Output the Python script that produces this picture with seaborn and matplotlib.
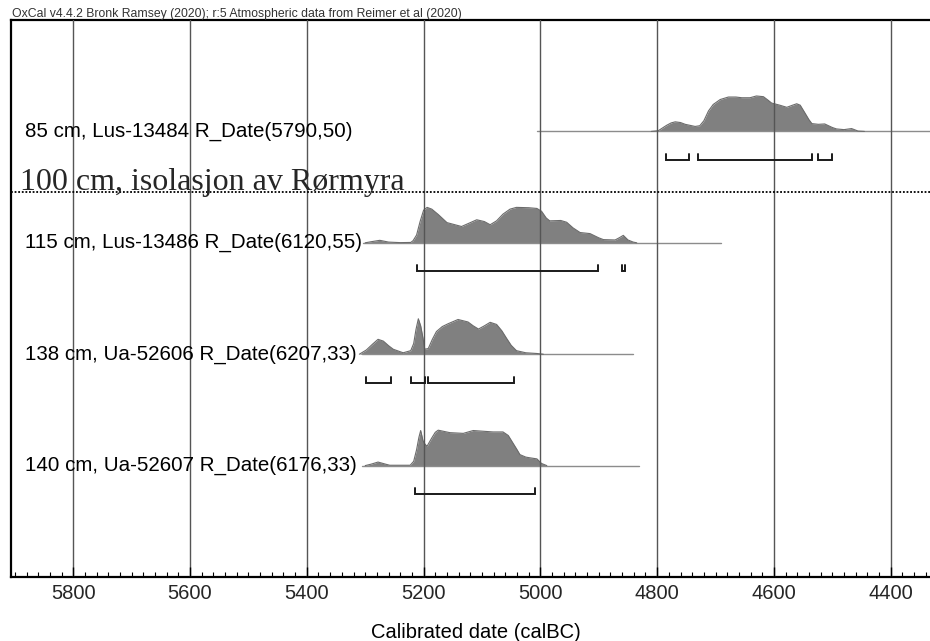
import numpy as np
import pandas as pd
import matplotlib
matplotlib.use("Agg")
import matplotlib.pyplot as plt
from matplotlib.ticker import MultipleLocator
import seaborn as sns

# --- Calibrated dates (calBC), relative probability (peak = 1) ---
labels = [
    "85 cm, Lus-13484 R_Date(5790,50)",
    "115 cm, Lus-13486 R_Date(6120,55)",
    "138 cm, Ua-52606 R_Date(6207,33)",
    "140 cm, Ua-52607 R_Date(6176,33)",
]

years_85 = [4810, 4798, 4784, 4776, 4769, 4760, 4752, 4735, 4727, 4720, 4712, 4704,
            4692, 4678, 4665, 4655, 4641, 4630, 4618, 4610, 4604, 4590, 4578, 4568,
            4561, 4555, 4548, 4540, 4535, 4524, 4513, 4500, 4493, 4480, 4467, 4456,
            4445]
prob_85 = [0.0, 0.02, 0.17, 0.24, 0.27, 0.25, 0.20, 0.14, 0.16, 0.30, 0.58, 0.76,
           0.90, 0.97, 0.97, 0.95, 0.95, 1.0, 0.98, 0.88, 0.80, 0.74, 0.68, 0.74,
           0.78, 0.74, 0.55, 0.33, 0.22, 0.20, 0.21, 0.11, 0.07, 0.05, 0.08, 0.01,
           0.0]

years_115 = [5300, 5290, 5275, 5260, 5240, 5222, 5218, 5212, 5206, 5200, 5194, 5186,
             5175, 5160, 5135, 5109, 5096, 5086, 5075, 5064, 5052, 5041, 5020, 5006,
             4998, 4990, 4984, 4965, 4955, 4944, 4932, 4915, 4900, 4892, 4872, 4864,
             4858, 4850, 4841, 4835]
prob_115 = [0.0, 0.03, 0.07, 0.02, 0.005, 0.01, 0.06, 0.22, 0.60, 0.92, 1.0, 0.95,
            0.80, 0.57, 0.46, 0.65, 0.60, 0.51, 0.62, 0.81, 0.95, 1.0, 0.99, 0.97,
            0.89, 0.70, 0.62, 0.63, 0.58, 0.42, 0.29, 0.26, 0.14, 0.09, 0.08, 0.15,
            0.21, 0.08, 0.02, 0.0]

years_138 = [5310, 5298, 5287, 5278, 5269, 5260, 5252, 5235, 5222, 5217, 5213, 5209,
             5205, 5201, 5198, 5192, 5185, 5178, 5168, 5158, 5141, 5124, 5115, 5106,
             5096, 5086, 5075, 5066, 5058, 5050, 5041, 5025, 5006, 4995]
prob_138 = [0.0, 0.12, 0.29, 0.42, 0.37, 0.24, 0.14, 0.04, 0.10, 0.30, 0.70, 1.0,
            0.80, 0.45, 0.14, 0.16, 0.42, 0.64, 0.78, 0.86, 0.98, 0.91, 0.80, 0.71,
            0.80, 0.90, 0.84, 0.66, 0.45, 0.25, 0.10, 0.04, 0.02, 0.0]

years_140 = [5300, 5290, 5278, 5265, 5258, 5223, 5217, 5212, 5208, 5205, 5201, 5197,
             5194, 5186, 5180, 5175, 5155, 5132, 5115, 5098, 5081, 5064, 5055, 5049,
             5040, 5035, 5025, 5018, 5006, 4998, 4989]
prob_140 = [0.0, 0.04, 0.10, 0.04, 0.01, 0.01, 0.12, 0.45, 0.80, 0.99, 0.70, 0.59,
            0.55, 0.78, 0.94, 1.0, 0.93, 0.91, 0.99, 0.97, 0.95, 0.95, 0.85, 0.69,
            0.45, 0.31, 0.24, 0.22, 0.19, 0.06, 0.0]

# extent of each calibration curve baseline (calBC)
spans = [(5006, 4333), (5304, 4691), (5306, 4841), (5305, 4831)]

# 95.4% highest probability ranges (calBC)
ranges_85 = [(4785, 4745), (4730, 4535), (4525, 4500)]
ranges_115 = [(5212, 4902), (4860, 4855)]
ranges_138 = [(5298, 5255), (5221, 5197), (5193, 5045)]
ranges_140 = [(5215, 5009)]

major_ticks = [5800, 5600, 5400, 5200, 5000, 4800, 4600, 4400]

rows = [
    (years_85, prob_85, ranges_85),
    (years_115, prob_115, ranges_115),
    (years_138, prob_138, ranges_138),
    (years_140, prob_140, ranges_140),
]

sns.set_style("white")
plt.rcParams["font.family"] = ["Liberation Sans", "DejaVu Sans"]

W, H = 930, 641
fig = plt.figure(figsize=(W / 100, H / 100), dpi=100)
ax = fig.add_axes([10.5 / W, 1 - 577 / H, (W - 10.5) / W, (577 - 20) / H])

peak = 0.318        # height of a full-probability peak, in row units
br_off = 0.256      # distance from baseline to range bar
br_h = 0.054        # height of range bar end ticks

for i, (yrs, prob, rngs) in enumerate(rows):
    base = i + 1
    s0, s1 = spans[i]
    ax.plot([s0, s1], [base, base], color="#8c8c8c", lw=1.0, zorder=1.5)
    df = pd.DataFrame({"year": yrs, "top": base - np.array(prob) * peak})
    ax.fill_between(df["year"], base, df["top"], color="#808080", lw=0, zorder=1)
    sns.lineplot(data=df, x="year", y="top", ax=ax, color="#6b6b6b", lw=0.8,
                 sort=False, estimator=None, zorder=1.6)
    yb = base + br_off
    for a, b in rngs:
        ax.plot([a, a, b, b], [yb - br_h, yb, yb, yb - br_h], color="#1a1a1a",
                lw=1.4, solid_joinstyle="miter", zorder=3)
    ax.text(0.0158, base, labels[i], transform=ax.get_yaxis_transform(),
            ha="left", va="center", fontsize=14.8, color="black", zorder=4)

# boundary marker
ax.axhline(1.545, color="black", lw=1.3, ls=(0, (1, 1)), zorder=4)
ax.text(0.0103, 1.525, "100 cm, isolasjon av Rørmyra",
        transform=ax.get_yaxis_transform(), ha="left", va="baseline",
        fontsize=23, family=["Liberation Serif", "DejaVu Serif"], zorder=4)

ax.set_xlim(5907.5, 4332.7)
ax.set_ylim(5.0, 0.0)
ax.set_xlabel("")
ax.set_ylabel("")
ax.set_xticks(major_ticks)
ax.set_xticklabels([str(t) for t in major_ticks])
ax.xaxis.set_minor_locator(MultipleLocator(20))
ax.set_yticks([])
ax.tick_params(axis="x", which="major", direction="in", length=7, width=1.0,
               color="black", labelsize=14.5, pad=5, bottom=True)
ax.tick_params(axis="x", which="minor", direction="in", length=3.5, width=0.8,
               color="black", bottom=True)
ax.grid(axis="x", which="major", color="#555555", lw=1.0)
ax.set_axisbelow(False)

for side in ("left", "top", "bottom"):
    ax.spines[side].set_linewidth(1.6)
    ax.spines[side].set_color("black")
ax.spines["right"].set_visible(False)

fig.text(12 / W, 1 - 14 / H,
         "OxCal v4.4.2 Bronk Ramsey (2020); r:5 Atmospheric data from Reimer et al (2020)",
         ha="left", va="center", fontsize=8.8, color="#333333")
fig.text(476 / W, 1 - 632 / H, "Calibrated date (calBC)", ha="center",
         va="center", fontsize=14.5, color="black")

fig.savefig("out.png", dpi=100)
